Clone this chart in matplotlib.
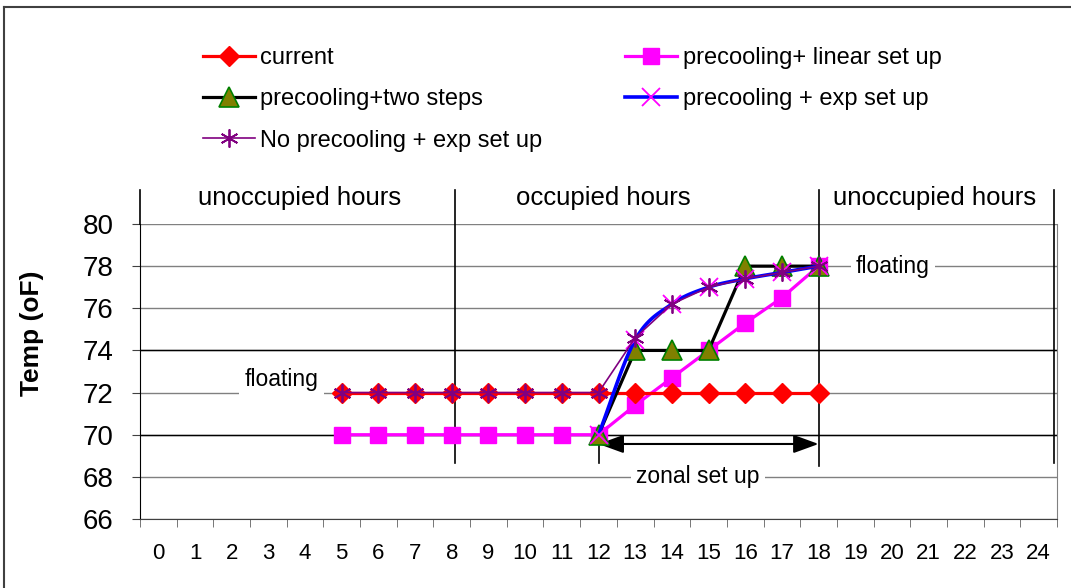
# Temperatura de consigna por hora para distintas estrategias de precooling

import numpy as np
import matplotlib
matplotlib.use("Agg")
import matplotlib.pyplot as plt
from matplotlib.lines import Line2D

plt.rcParams['font.family'] = ['Liberation Sans', 'DejaVu Sans']

# Datos
hours = list(range(25))
hour_labels = [str(h) for h in hours]

current_x = [5, 6, 7, 8, 9, 10, 11, 12, 13, 14, 15, 16, 17, 18]
current_y = [72, 72, 72, 72, 72, 72, 72, 72, 72, 72, 72, 72, 72, 72]

linear_x = [5, 6, 7, 8, 9, 10, 11, 12, 13, 14, 15, 16, 17, 18]
linear_y = [70, 70, 70, 70, 70, 70, 70, 70, 71.4, 72.7, 74, 75.3, 76.5, 78]

two_steps_x = [12, 13, 14, 15, 16, 17, 18]
two_steps_y = [70, 74, 74, 74, 78, 78, 78]

exp_x = [12, 13, 14, 15, 16, 17, 18]
exp_y = [70, 74.5, 76.2, 77.0, 77.4, 77.7, 78]

no_pre_x = [5, 6, 7, 8, 9, 10, 11, 12, 13, 14, 15, 16, 17, 18]
no_pre_y = [72, 72, 72, 72, 72, 72, 72, 72, 74.6, 76.2, 77.0, 77.4, 77.7, 78]

temp_ticks = [66, 68, 70, 72, 74, 76, 78, 80]


def smooth(xs, ys, n=20):
    # Curva Catmull-Rom que pasa por todos los puntos (línea suavizada)
    x = np.asarray(xs, float)
    y = np.asarray(ys, float)
    px = np.concatenate([[2 * x[0] - x[1]], x, [2 * x[-1] - x[-2]]])
    py = np.concatenate([[2 * y[0] - y[1]], y, [2 * y[-1] - y[-2]]])
    t = np.linspace(0, 1, n)
    out_x, out_y = [], []
    for i in range(1, len(px) - 2):
        for p, out in ((px, out_x), (py, out_y)):
            p0, p1, p2, p3 = p[i - 1:i + 3]
            out.extend(0.5 * (2 * p1 + (-p0 + p2) * t
                              + (2 * p0 - 5 * p1 + 4 * p2 - p3) * t ** 2
                              + (-p0 + 3 * p1 - 3 * p2 + p3) * t ** 3))
    return out_x, out_y


W, H = 1071, 588
fig = plt.figure(figsize=(W / 100, H / 100), dpi=100)
ax = fig.add_axes([140 / W, 69 / H, 917 / W, 295 / H])

ax.set_xlim(-0.5, 24.5)
ax.set_ylim(66, 80)

# Rejilla horizontal
ax.set_yticks(temp_ticks)
ax.yaxis.grid(True, color='#808080', linewidth=1, zorder=0)
ax.set_axisbelow(True)
ax.axhline(70, color='black', linewidth=1, zorder=1)
ax.axhline(74, color='black', linewidth=1, zorder=1)

# Series
l_lin, = ax.plot(linear_x, linear_y, color='#FF00FF', linewidth=2.3, marker='s',
                 markersize=11.5, markerfacecolor='#FF00FF', markeredgecolor='#FF00FF', zorder=3)
l_cur, = ax.plot(current_x, current_y, color='#FF0000', linewidth=2.3, marker='D',
                 markersize=10, markerfacecolor='#FF0000', markeredgecolor='#FF0000', zorder=3)
l_two, = ax.plot(two_steps_x, two_steps_y, color='black', linewidth=2.3, marker='^',
                 markersize=14, markerfacecolor='#808000', markeredgecolor='#008000',
                 markeredgewidth=1.2, zorder=4)
sx, sy = smooth(exp_x, exp_y)
ax.plot(sx, sy, color='#0000FF', linewidth=2.6, zorder=5)
ax.plot(exp_x, exp_y, linestyle='none', marker='x', markersize=13,
        markeredgecolor='#FF00FF', markeredgewidth=1.3, zorder=5)
l_exp = Line2D([], [], color='#0000FF', linewidth=2.6, marker='x', markersize=13,
               markeredgecolor='#FF00FF', markeredgewidth=1.3)
l_no, = ax.plot(no_pre_x, no_pre_y, color='#800080', linewidth=1.2, marker=(6, 2, 0),
                markersize=13, markeredgecolor='#800080', markeredgewidth=1.3, zorder=6)

# Ejes y marcas
ax.spines['top'].set_visible(False)
ax.spines['right'].set_color('#808080')
ax.spines['left'].set_color('black')
ax.spines['bottom'].set_color('#404040')

ax.set_xticks(hours)
ax.set_xticklabels(hour_labels)
ax.set_xticks(np.arange(-0.5, 25, 1), minor=True)
ax.tick_params(axis='x', which='major', length=0, pad=17, labelsize=16)
ax.tick_params(axis='x', which='minor', length=5.5, color='#606060')
ax.tick_params(axis='y', length=6, pad=13, labelsize=20, color='#404040')

fig.text(32 / W, 1 - 333 / H, 'Temp (oF)', rotation=90, ha='center', va='center',
         fontsize=19, fontweight='bold')

# Separación entre horarios ocupados y no ocupados
ax.plot([-0.5, -0.5], [80, 81.6], color='black', linewidth=1.2, clip_on=False)
ax.plot([8.09, 8.09], [68.65, 81.6], color='black', linewidth=1.2, clip_on=False, zorder=2)
ax.plot([18, 18], [68.5, 81.6], color='black', linewidth=1.2, clip_on=False, zorder=2)
ax.plot([24.41, 24.41], [68.65, 81.6], color='black', linewidth=1.2, clip_on=False, zorder=2)
ax.plot([12, 12], [70.4, 68.65], color='black', linewidth=1.2, zorder=2)

ax.text(3.86, 81.23, 'unoccupied hours', ha='center', va='center', fontsize=18.5)
ax.text(12.12, 81.23, 'occupied hours', ha='center', va='center', fontsize=18.5)
ax.text(21.17, 81.23, 'unoccupied hours', ha='center', va='center', fontsize=18.5)

# Flecha de la zona de set up
ax.annotate('', xy=(18, 69.56), xytext=(12, 69.56),
            arrowprops=dict(arrowstyle='<|-|>,head_length=0.55,head_width=0.2',
                            color='black', linewidth=1.5, mutation_scale=28,
                            shrinkA=0, shrinkB=0), zorder=2)

box = dict(facecolor='white', edgecolor='none', pad=4)
ax.text(3.35, 72.62, 'floating', ha='center', va='center', fontsize=16.5, bbox=box, zorder=2)
ax.text(20.03, 78, 'floating', ha='center', va='center', fontsize=16.5, bbox=box, zorder=2)
ax.text(14.71, 68, 'zonal set up', ha='center', va='center', fontsize=16.5, bbox=box, zorder=2)

# Leyenda en dos columnas (filas: current/linear, two steps/exp, no precooling)
handles = [l_cur, l_two, l_no, l_lin, l_exp]
labels = ['current', 'precooling+two steps', 'No precooling + exp set up',
          'precooling+ linear set up', 'precooling + exp set up']
fig.legend(handles, labels, ncol=2, loc='upper left', bbox_to_anchor=(203 / W, 1 - 47 / H),
           frameon=False, fontsize=17, handlelength=2.2, handletextpad=0.22,
           columnspacing=3.52, labelspacing=0.82, borderpad=0, borderaxespad=0)

# Marco exterior
fig.add_artist(Line2D([4 / W, 4 / W], [0, 1 - 7 / H], transform=fig.transFigure,
                      color='#404040', linewidth=1.5))
fig.add_artist(Line2D([4 / W, 1], [1 - 7 / H, 1 - 7 / H], transform=fig.transFigure,
                      color='#404040', linewidth=1.5))

fig.savefig('out.png', dpi=100)
